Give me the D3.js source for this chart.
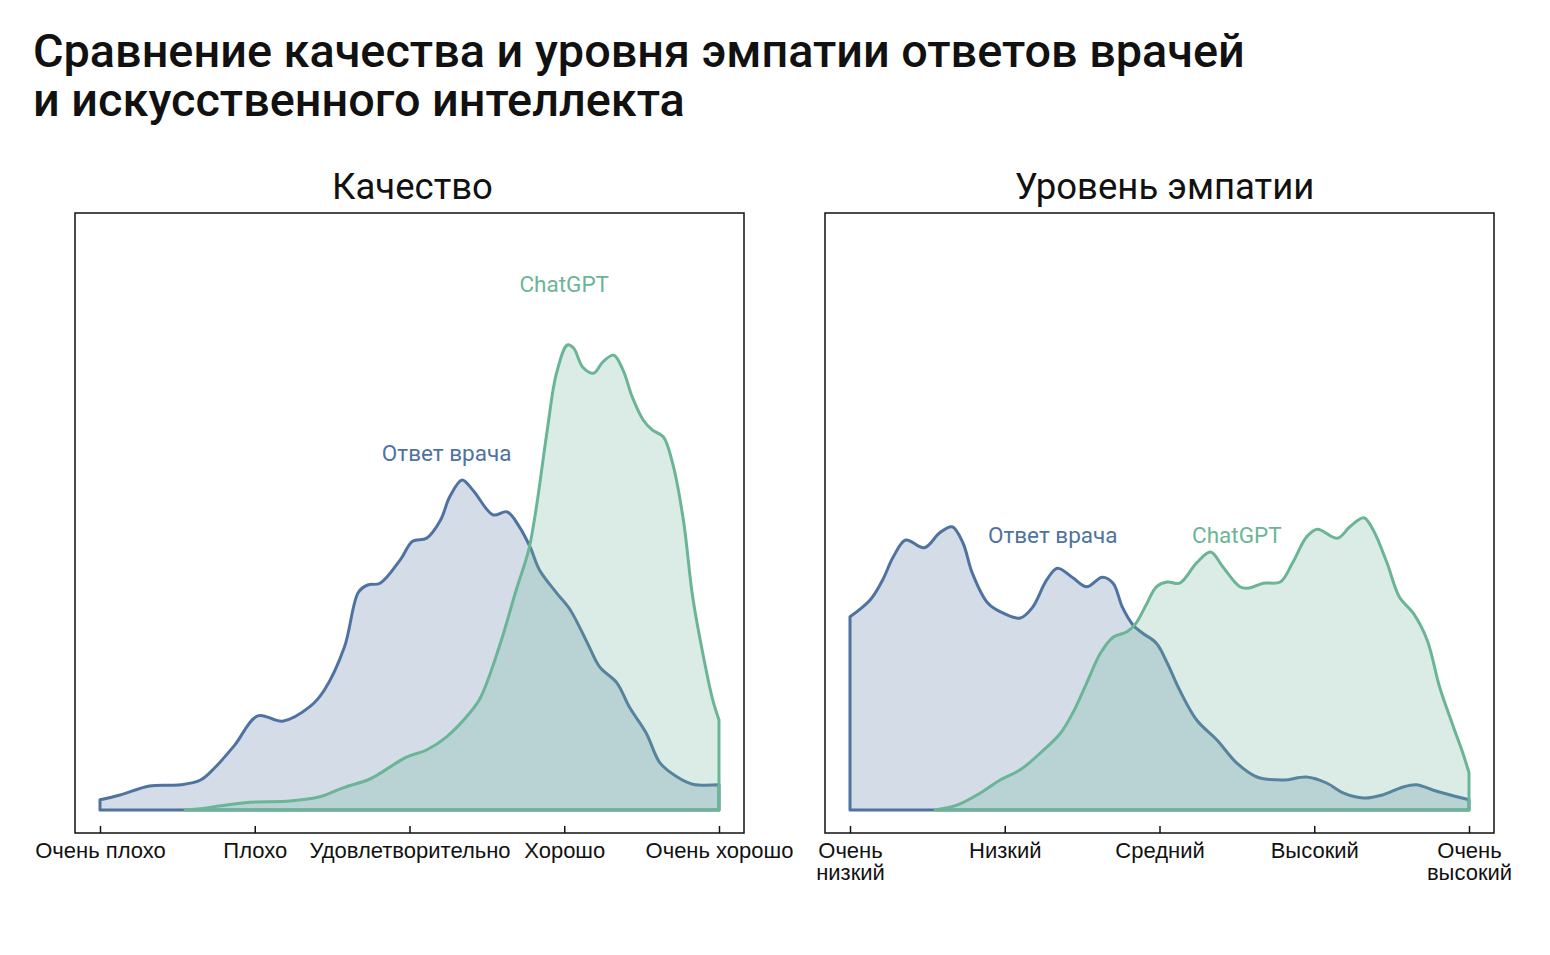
<!DOCTYPE html>
<html><head><meta charset="utf-8">
<script src="https://cdn.jsdelivr.net/npm/d3@7"></script>
<style>
body{margin:0;background:#fff;}
svg{display:block;font-family:Roboto,"Noto Sans",sans-serif;}
</style></head>
<body>
<svg id="chart" width="1550" height="955"></svg>
<script>
// ---------- DATA ----------
const titleLines = ["Сравнение качества и уровня эмпатии ответов врачей", "и искусственного интеллекта"];
const panelTitles = ["Качество", "Уровень эмпатии"];
const seriesNames = ["Ответ врача", "ChatGPT"];
const qualityTicks = ["Очень плохо", "Плохо", "Удовлетворительно", "Хорошо", "Очень хорошо"];
const empathyTicks = [["Очень", "низкий"], ["Низкий"], ["Средний"], ["Высокий"], ["Очень", "высокий"]];

// score (1..5) , density (relative units)
const qualityDoctor = [
 [1.00,1.7],[1.13,2.5],[1.32,4.0],[1.52,4.2],[1.65,5.0],[1.74,7.0],[1.87,10.8],[2.02,15.7],[2.18,14.8],
 [2.36,17.3],[2.45,20],[2.58,27.2],[2.67,36.3],[2.73,37.5],[2.81,37.8],[2.94,41.7],[3.02,44.8],[3.11,45.3],
 [3.20,48.3],[3.26,52.2],[3.34,55],[3.41,53.3],[3.54,49.2],[3.63,49.7],[3.71,47.2],[3.78,43.8],[3.84,40],
 [3.95,36.2],[4.04,33.3],[4.15,27.8],[4.23,23.8],[4.34,21.2],[4.42,17.2],[4.53,12.8],[4.62,7.8],[4.73,5.5],
 [4.83,4.3],[5.00,4.2]
];
const qualityGPT = [
 [1.55,0],[1.65,0.2],[1.78,0.7],[1.97,1.3],[2.23,1.5],[2.42,2.2],[2.57,3.7],[2.73,5.0],[2.79,5.8],[2.98,8.8],
 [3.11,10],[3.24,12.2],[3.39,16.2],[3.46,18.8],[3.58,27.2],[3.69,36.7],[3.77,43.3],[3.82,50.5],[3.89,63.3],
 [3.95,72.8],[4.02,77.5],[4.06,77],[4.12,73.8],[4.19,72.8],[4.25,74.7],[4.32,75.8],[4.38,73.3],[4.44,68.8],
 [4.51,65],[4.57,63.3],[4.64,62.2],[4.70,57.8],[4.77,48.3],[4.83,35.5],[4.90,25.5],[4.96,18.3],[5.00,15]
];
const empathyDoctor = [
 [1.00,32.2],[1.13,35],[1.21,38.3],[1.28,42.2],[1.36,45],[1.48,43.7],[1.58,46.2],[1.66,47.2],[1.73,44.5],
 [1.79,39.5],[1.89,34.5],[1.99,32.8],[2.10,32],[2.18,33.8],[2.27,38.3],[2.34,40.3],[2.44,38.7],[2.53,37.2],
 [2.63,38.8],[2.70,37.8],[2.76,33.8],[2.83,30.8],[2.89,29.5],[2.98,27.8],[3.05,24.5],[3.13,20],[3.24,15],
 [3.37,11.7],[3.50,7.8],[3.63,5.5],[3.80,5],[3.95,5.5],[4.08,4.5],[4.19,2.8],[4.32,2],[4.44,2.5],[4.57,3.8],
 [4.66,4.2],[4.77,3.3],[4.88,2.5],[5.00,1.7]
];
const empathyGPT = [
 [1.55,0],[1.69,0.8],[1.84,2.8],[1.97,5],[2.10,6.7],[2.23,9.5],[2.36,12.8],[2.44,16.2],[2.53,21.2],[2.62,26.2],
 [2.70,28.8],[2.79,29.7],[2.85,31.2],[2.92,34.5],[2.98,37.2],[3.05,38],[3.13,37.8],[3.24,41.2],[3.33,43],
 [3.41,40.5],[3.52,37.2],[3.58,37],[3.67,37.8],[3.78,38],[3.86,41.2],[3.95,45.5],[4.02,46.8],[4.15,45.3],
 [4.23,47.2],[4.32,48.7],[4.38,46.7],[4.47,41.2],[4.55,35.5],[4.64,32.8],[4.73,28.3],[4.81,20.5],[4.90,13.8],
 [4.96,9.5],[5.00,6.2]
];
// label anchor positions (score, density)
const qualityLabels = [[3.24, 58.2], [4.0, 86.3]];
const empathyLabels = [[2.31, 44.5], [3.50, 44.5]];

// ---------- STYLE ----------
const blue = "#4f73a0", green = "#6bb597";
const svg = d3.select("#chart");

svg.append("g").selectAll("text").data(titleLines).join("text")
  .attr("x", 33).attr("y", (d,i) => 67 + i*49)
  .attr("font-size", 46.8).attr("font-weight", 500).attr("fill", "#111")
  .text(d => d);

const panels = [
  {title: panelTitles[0], left: 75, titleShift: 3, ticks: qualityTicks, series: [qualityDoctor, qualityGPT], labels: qualityLabels},
  {title: panelTitles[1], left: 825, titleShift: 5, ticks: empathyTicks, series: [empathyDoctor, empathyGPT], labels: empathyLabels}
];

const frameW = 669, frameTop = 213, frameBottom = 833;
const y = d3.scaleLinear().domain([0, 100]).range([810, 210]);
const colors = [blue, green];

panels.forEach(p => {
  const g = svg.append("g");
  const x = d3.scaleLinear().domain([1, 5]).range([p.left + 25, p.left + 25 + 619]);

  g.append("text").attr("x", p.left + frameW/2 + p.titleShift).attr("y", 199)
    .attr("text-anchor", "middle").attr("font-size", 36.5).attr("fill", "#111").text(p.title);

  p.series.forEach((data, i) => {
    const area = d3.area().x(d => x(d[0])).y0(y(0)).y1(d => y(d[1])).curve(d3.curveCatmullRom.alpha(0.5));
    g.append("path").datum(data).attr("d", area)
      .attr("fill", colors[i]).attr("fill-opacity", 0.25)
      .attr("stroke", colors[i]).attr("stroke-width", 3).attr("stroke-linejoin", "round");
  });

  p.labels.forEach((l, i) => {
    g.append("text").attr("x", x(l[0])).attr("y", y(l[1])).attr("text-anchor", "middle")
      .attr("font-size", 22.5).attr("fill", colors[i]).text(seriesNames[i]);
  });

  g.append("rect").attr("x", p.left).attr("y", frameTop).attr("width", frameW).attr("height", frameBottom - frameTop)
    .attr("fill", "none").attr("stroke", "#111").attr("stroke-width", 1.5);

  const axis = d3.axisBottom(x).tickValues([1,2,3,4,5]).tickSize(-7).tickSizeOuter(0).tickFormat("");
  const ag = g.append("g").attr("transform", `translate(0,${frameBottom})`).call(axis);
  ag.select(".domain").remove();
  ag.selectAll(".tick line").attr("stroke", "#111").attr("stroke-width", 1.5);
  ag.selectAll(".tick").each(function(d, i) {
    const lines = Array.isArray(p.ticks[i]) ? p.ticks[i] : [p.ticks[i]];
    const t = d3.select(this).append("text").attr("fill", "#111").attr("font-size", 22)
      .attr("text-anchor", "middle").attr("y", 25);
    lines.forEach((s, k) => t.append("tspan").attr("x", 0).attr("dy", k === 0 ? 0 : 22).text(s));
  });
});
</script>
</body></html>
